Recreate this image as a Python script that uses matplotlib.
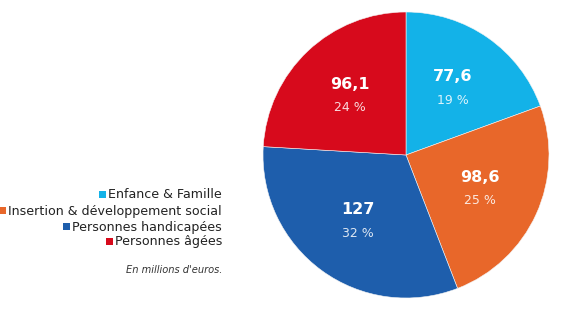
import matplotlib
matplotlib.use("Agg")
import matplotlib.pyplot as plt
import numpy as np

# Data
categories = ["Enfance & Famille", "Insertion & développement social",
              "Personnes handicapées", "Personnes âgées"]
values = [77.6, 98.6, 127, 96.1]
value_labels = ["77,6", "98,6", "127", "96,1"]
pct_labels = ["19 %", "25 %", "32 %", "24 %"]
colors = ["#13b2e8", "#e8672a", "#1e5eac", "#d70a1c"]
note = "En millions d'euros."

W, H = 573, 324
fig = plt.figure(figsize=(W / 100, H / 100), dpi=100)
fig.patch.set_facecolor("white")

# pie axes: centre (406,155) px, radius 143 px
cx, cy, r = 406, 155, 143
ax = fig.add_axes([(cx - r) / W, (H - cy - r) / H, 2 * r / W, 2 * r / H])
ax.pie(values, colors=colors, startangle=90, counterclock=False,
       wedgeprops=dict(edgecolor="#f4f4f4", linewidth=0.4), radius=1.0)
ax.set_xlim(-1, 1)
ax.set_ylim(-1, 1)
ax.set_aspect("equal")
ax.axis("off")

# slice labels
total = sum(values)
cum = 0
for v, vl, pl in zip(values, value_labels, pct_labels):
    mid = 90 - (cum + v / 2) / total * 360
    cum += v
    x = 0.57 * np.cos(np.radians(mid))
    y = 0.57 * np.sin(np.radians(mid))
    ax.text(x, y + 0.08, vl, ha="center", va="center", color="white",
            fontsize=11.5, fontweight="heavy")
    ax.text(x, y - 0.085, pl, ha="center", va="center", color="white",
            alpha=0.85, fontsize=9)

# legend, right-aligned on the left side
fig.canvas.draw()
renderer = fig.canvas.get_renderer()
right = 222 / W
rows_y = [195, 211, 227, 242]
for cat, col, yy in zip(categories, colors, rows_y):
    t = fig.text(right, 1 - yy / H, cat, ha="right", va="center",
                 fontsize=9.1, color="#222222")
    bb = t.get_window_extent(renderer=renderer)
    sq = 7
    fig.patches.append(plt.Rectangle(((bb.x0 - sq - 2) / W, (H - yy - sq / 2 + 1) / H),
                                     sq / W, sq / H, transform=fig.transFigure,
                                     facecolor=col, edgecolor="none"))

fig.text(right, 1 - 270 / H, note, ha="right", va="center", fontsize=7.1,
         style="italic", color="#333333")

fig.savefig("out.png", dpi=100)
